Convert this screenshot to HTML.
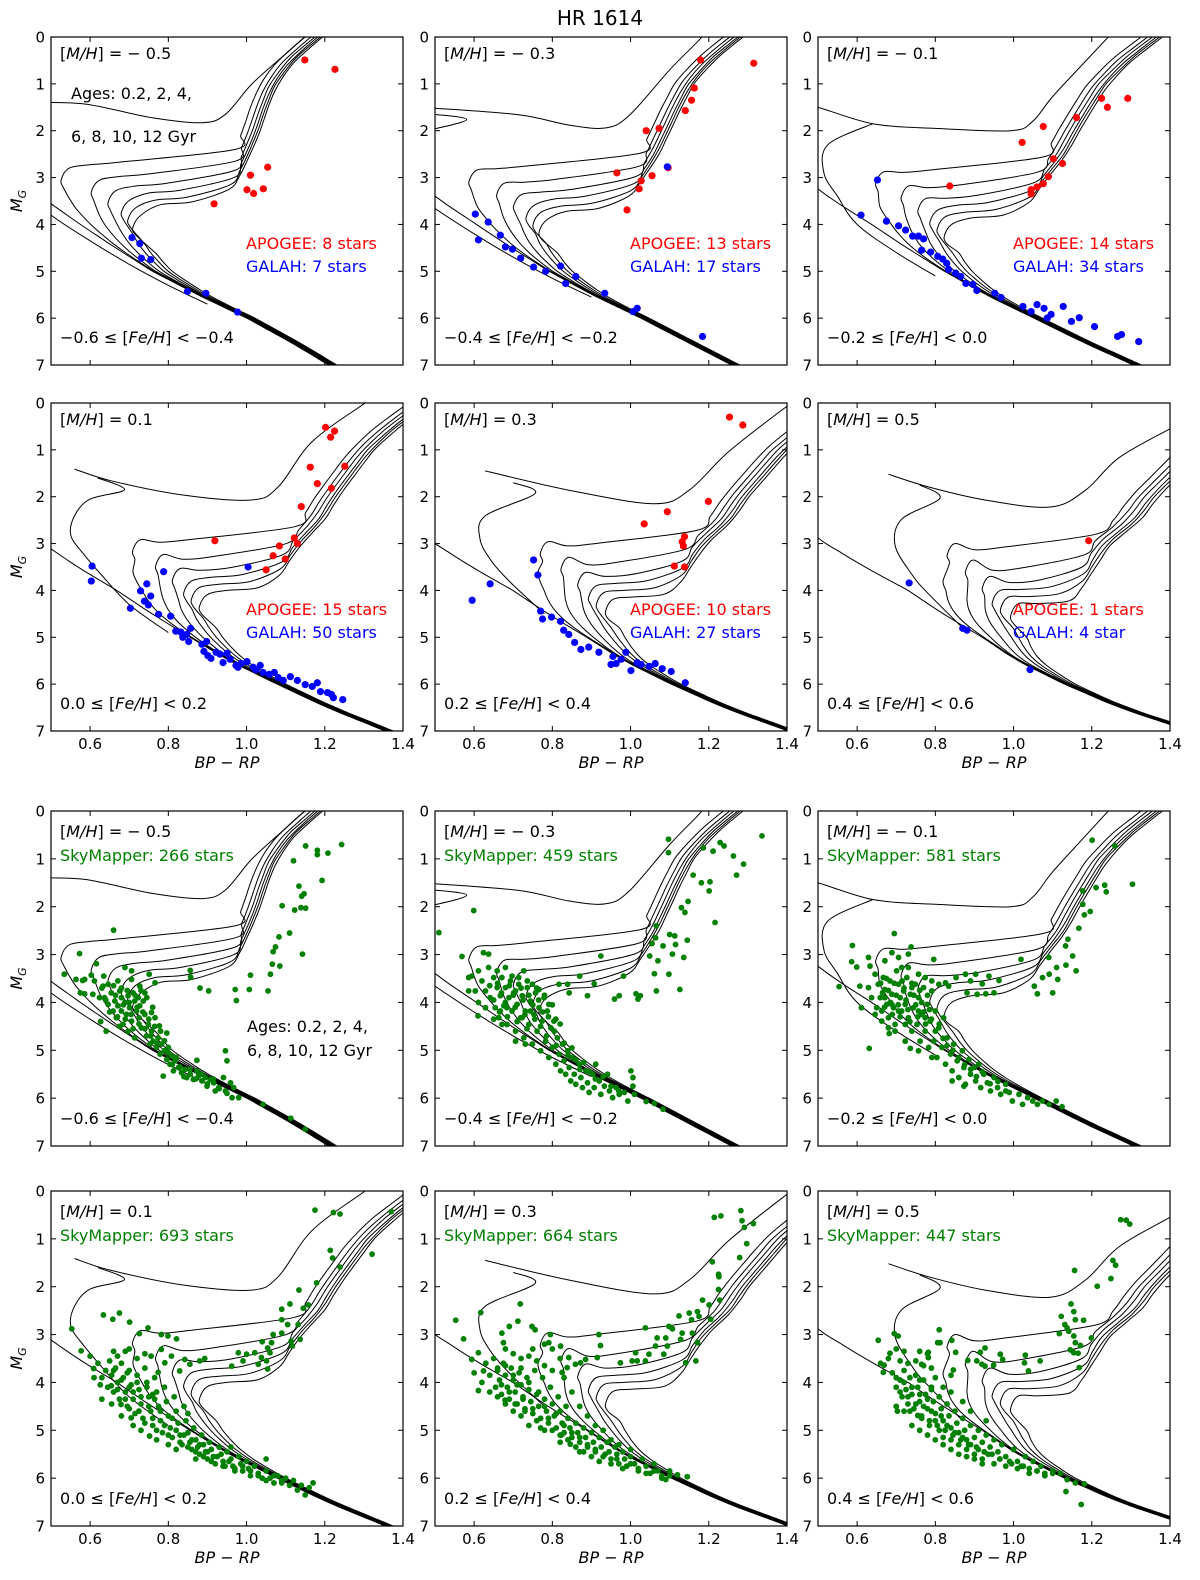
<!DOCTYPE html>
<html>
<head>
<meta charset="utf-8">
<style>
html,body{margin:0;padding:0;background:#fff;}
svg{display:block;}
text{font-family:"DejaVu Sans","Liberation Sans",sans-serif;}
</style>
</head>
<body>
<svg id="fig" xmlns="http://www.w3.org/2000/svg" width="1200" height="1580" viewBox="0 0 1200 1580">
<text x="600" y="25" text-anchor="middle" font-size="20">HR 1614</text>
</svg>
<script>
// ---------------- data ----------------
const mhLabels = ["\u22120.5","\u22120.3","\u22120.1","0.1","0.3","0.5"];
const mhValues = [-0.5,-0.3,-0.1,0.1,0.3,0.5];
const feLo = ["\u22120.6","\u22120.4","\u22120.2","0.0","0.2","0.4"];
const feHi = ["\u22120.4","\u22120.2","0.0","0.2","0.4","0.6"];
const apogeeCounts = ["8 stars","13 stars","14 stars","15 stars","10 stars","1 stars"];
const galahCounts = ["7 stars","17 stars","34 stars","50 stars","27 stars","4 star"];
const skyCounts = ["266 stars","459 stars","581 stars","693 stars","664 stars","447 stars"];
const xTicks = [0.6,0.8,1.0,1.2,1.4];
const xTickLabels = ["0.6","0.8","1.0","1.2","1.4"];
const yTicks = [0,1,2,3,4,5,6,7];

// isochrone templates (metal-poor A, metal-rich B)
const msMags = [2.0,2.5,3,3.5,4,4.5,5,5.5,6,6.5,7,7.5];
const msA = [0.24,0.33,0.42,0.49,0.575,0.665,0.76,0.875,1.0,1.11,1.21,1.32];
const msB = [0.36,0.44,0.52,0.62,0.73,0.82,0.92,1.01,1.13,1.27,1.45,1.6];
const rgbMags = [-0.5,0,0.5,1,1.5,2,2.5,3,3.5,4,4.5,5];
const rgbA = [1.27,1.194,1.125,1.08,1.055,1.035,1.01,0.98,0.93,0.89,0.85,0.8];
const rgbB = [1.75,1.66,1.57,1.49,1.43,1.37,1.325,1.25,1.21,1.17,1.13,1.09];
const cLA = [0.526,0.603,0.646,0.68,0.697,0.71], cLB = [0.83,0.877,0.92,0.946,0.967,0.993];
const mLA = [3.1,3.36,3.58,3.79,3.94,4.1], mLB = [3.3,3.65,4.0,4.3,4.44,4.58];
const mSA = [2.7,2.95,3.15,3.3,3.45,3.55], mSB = [3.1,3.54,3.8,3.95,4.1,4.25];
const offA = [-0.045,-0.03,-0.02,-0.012,-0.006,0], offB = [-0.07,-0.05,-0.035,-0.02,-0.01,0];

const young0 = [[0.45,1.40],[0.586,1.43],[0.757,1.72],[0.886,1.83],[0.946,1.65],[1.014,1.0],[1.1,0.36],[1.15,0],[1.2,-0.3]];
const young0b = [[0.45,3.4],[0.5,3.8],[0.6,4.35],[0.7,4.85],[0.8,5.3],[0.9,5.7]];
const young1 = [[0.45,1.5],[0.5,1.52],[0.714,1.66],[0.843,1.88],[0.937,1.94],[0.997,1.67],[1.1,0.7],[1.177,0.05],[1.21,-0.3]];
const young1b = [[0.45,1.62],[0.581,1.76],[0.45,2.05]];
const young1c = [[0.45,3.35],[0.5,3.66],[0.6,4.2],[0.7,4.7],[0.8,5.15],[0.9,5.55]];
const young2 = [[0.45,1.45],[0.5,1.5],[0.64,1.85],[0.8,1.95],[0.993,2.0],[1.049,1.8],[1.1,1.27],[1.186,0.5],[1.254,-0.1],[1.28,-0.3]];
const young2b = [[0.64,1.85],[0.525,2.3],[0.515,2.9],[0.55,3.4],[0.6,4.0],[0.7,4.6],[0.8,5.1]];
const young3 = [[0.56,1.41],[0.654,1.66],[0.842,1.97],[1.013,2.07],[1.081,1.79],[1.167,0.83],[1.303,0],[1.35,-0.3]];
const young3b = [[0.62,1.6],[0.688,1.85],[0.6,2.05],[0.56,2.41],[0.551,2.83],[0.585,3.24],[0.628,3.66],[0.7,4.3],[0.8,4.9]];
const young4 = [[0.628,1.45],[0.842,1.86],[1.06,2.15],[1.15,1.86],[1.252,1.03],[1.4,0.07],[1.45,-0.2]];
const young4b = [[0.7,1.7],[0.756,1.93],[0.628,2.41],[0.615,2.9],[0.645,3.38],[0.697,3.86],[0.78,4.5]];
const young5 = [[0.68,1.52],[0.782,1.79],[0.927,2.07],[1.094,2.22],[1.184,1.86],[1.269,1.17],[1.4,0.55],[1.5,0.1]];
const young5b = [[0.76,1.75],[0.812,2.03],[0.714,2.48],[0.697,3.03],[0.74,3.66],[0.782,4.07],[0.87,4.8]];
const youngMain = [young0,young1,young2,young3,young4,young5];
const youngBranches = [[young0b],[young1b,young1c],[young2b],[young3b],[young4b],[young5b]];

// APOGEE (red) and GALAH (blue) stars [BP-RP, M_G]
const apogee1 = [[1.149,0.49],[1.226,0.69],[1.01,2.95],[1.054,2.78],[1.001,3.26],[1.018,3.34],[1.043,3.24],[0.917,3.56]];
const galah1 = [[0.707,4.28],[0.727,4.41],[0.731,4.72],[0.755,4.75],[0.849,5.43],[0.896,5.47],[0.977,5.87]];
const apogee2 = [[1.179,0.49],[1.315,0.56],[1.163,1.09],[1.156,1.35],[1.14,1.57],[1.073,1.95],[1.04,2.0],[0.965,2.9],[1.027,3.07],[1.055,2.96],[1.022,3.24],[0.991,3.69],[1.096,2.79]];
const galah2 = [[0.603,3.78],[0.611,4.33],[0.636,3.95],[0.667,4.23],[0.68,4.48],[0.698,4.53],[0.719,4.72],[0.752,4.91],[0.783,5.0],[0.821,4.89],[0.834,5.26],[0.86,5.11],[0.934,5.47],[1.006,5.86],[1.017,5.79],[1.184,6.39],[1.094,2.77]];
const apogee3 = [[1.225,1.31],[1.24,1.5],[1.292,1.31],[1.161,1.72],[1.076,1.91],[1.022,2.25],[1.102,2.6],[1.125,2.7],[1.089,2.98],[1.076,3.13],[1.06,3.2],[1.045,3.26],[1.045,3.35],[0.837,3.18]];
const galah3 = [[0.61,3.8],[0.652,3.05],[0.675,3.93],[0.706,4.03],[0.724,4.12],[0.742,4.25],[0.757,4.25],[0.77,4.31],[0.765,4.55],[0.788,4.59],[0.806,4.68],[0.819,4.74],[0.829,4.83],[0.834,4.96],[0.852,5.04],[0.865,5.11],[0.878,5.26],[0.896,5.28],[0.906,5.41],[0.952,5.47],[0.968,5.56],[1.024,5.75],[1.045,5.86],[1.06,5.71],[1.078,5.79],[1.096,5.92],[1.127,5.75],[1.148,6.07],[1.168,5.99],[1.207,6.18],[1.266,6.39],[1.276,6.35],[1.32,6.5],[1.086,6.0]];
const apogee4 = [[1.202,0.52],[1.215,0.73],[1.225,0.6],[1.163,1.37],[1.251,1.35],[1.181,1.72],[1.217,1.82],[1.14,2.21],[1.122,2.88],[1.13,3.0],[1.084,3.05],[1.068,3.26],[1.099,3.33],[1.05,3.56],[0.919,2.94]];
const galah4 = [[0.605,3.48],[0.603,3.8],[0.703,4.38],[0.729,4.01],[0.745,3.86],[0.739,4.23],[0.755,4.12],[0.749,4.31],[0.775,4.51],[0.788,3.6],[0.806,4.55],[0.819,4.87],[0.837,5.0],[0.832,4.89],[0.847,4.94],[0.857,4.81],[0.886,5.15],[0.898,5.09],[0.891,5.3],[0.901,5.39],[0.922,5.32],[0.932,5.36],[0.94,5.54],[0.958,5.47],[0.973,5.6],[0.986,5.56],[1.001,5.52],[1.004,3.5],[1.017,5.64],[1.024,5.69],[1.035,5.6],[1.042,5.75],[1.058,5.79],[1.071,5.75],[1.081,5.86],[1.094,5.92],[1.112,5.84],[1.13,5.92],[1.15,6.01],[1.168,6.05],[1.181,5.97],[1.189,6.16],[1.207,6.18],[1.217,6.22],[1.222,6.29],[1.246,6.33],[0.909,5.45],[0.95,5.34],[0.978,5.64],[0.852,5.09]];
const apogee5 = [[1.253,0.3],[1.287,0.47],[1.199,2.1],[1.094,2.32],[1.035,2.58],[1.138,2.85],[1.132,2.96],[1.112,3.48],[1.138,3.5],[1.135,3.05]];
const galah5 = [[0.595,4.21],[0.641,3.86],[0.752,3.35],[0.763,3.67],[0.77,4.44],[0.775,4.61],[0.798,4.57],[0.821,4.66],[0.829,4.85],[0.842,4.94],[0.857,5.11],[0.873,5.26],[0.893,5.21],[0.919,5.32],[0.955,5.41],[0.963,5.56],[0.976,5.47],[0.988,5.32],[1.001,5.71],[1.017,5.54],[1.027,5.58],[1.048,5.62],[1.063,5.56],[1.081,5.67],[1.104,5.73],[1.14,5.97],[0.95,5.58]];
const apogee6 = [[1.192,2.94]];
const galah6 = [[0.733,3.84],[0.87,4.81],[0.881,4.85],[1.042,5.69]];
const apogeeSets = [apogee1,apogee2,apogee3,apogee4,apogee5,apogee6];
const galahSets = [galah1,galah2,galah3,galah4,galah5,galah6];

// SkyMapper (green) stars [BP-RP, M_G]
const sky1 = [[1.243,0.70],[1.208,0.88],[1.181,0.82],[1.181,0.91],[1.151,0.73],[1.12,1.04],[1.193,1.45],[1.134,1.57],[1.147,1.73],[1.141,1.78],[1.139,2.02],[1.151,2.03],[1.123,2.07],[1.091,1.98],[1.11,2.55],[1.083,2.63],[1.074,2.84],[1.068,2.94],[1.143,2.99],[1.085,3.24],[1.066,3.2],[1.061,3.41],[1.01,3.43],[1.007,3.73],[1.055,3.76],[0.971,3.73],[0.974,3.96],[0.95,5.22],[0.856,3.33],[0.857,3.47],[0.881,3.7],[0.903,3.76],[1.042,6.13],[1.113,6.42],[1.15,6.65],[0.873,5.21],[0.66,2.49],[0.573,2.98],[0.534,3.41],[0.751,3.41],[0.766,3.59],[0.777,4.49],[0.796,4.64],
[0.564,3.52],[0.581,3.54],[0.575,3.8],[0.586,3.82],[0.603,3.43],[0.611,3.55],[0.616,3.19],[0.635,3.45],[0.633,3.66],[0.607,3.83],[0.627,4.4],[0.641,4.6],[0.637,3.9],[0.646,4.04],[0.654,3.8],[0.659,4.18],[0.663,3.97],[0.667,4.32],[0.671,4.07],[0.676,3.76],[0.68,3.9],[0.68,4.18],[0.684,4.46],[0.689,3.27],[0.689,4.0],[0.693,4.25],[0.697,3.86],[0.697,4.6],[0.701,4.11],[0.706,3.52],[0.706,4.39],[0.71,3.8],[0.714,3.97],[0.714,4.74],[0.719,4.18],[0.723,3.9],[0.725,4.32],[0.727,4.07],[0.731,4.53],[0.736,3.97],[0.74,4.25],[0.744,4.7],[0.749,4.46],[0.753,4.87],[0.757,4.6],[0.761,4.81],[0.766,4.32],[0.77,4.94],[0.774,4.74],[0.779,5.08],[0.783,4.87],[0.79,5.01],[0.796,5.19],[0.8,4.94],[0.804,5.29],[0.809,5.12],[0.813,5.43],[0.817,5.22],[0.787,5.54],[0.826,5.36],[0.834,5.47],[0.843,5.4],[0.847,5.57],[0.856,5.5],[0.864,5.61],[0.873,5.43],[0.877,5.54],[0.886,5.64],[0.894,5.57],[0.899,5.75],[0.907,5.61],[0.916,5.68],[0.92,5.85],[0.929,5.78],[0.941,5.57],[0.946,5.85],[0.959,5.68],[0.963,5.99],[0.967,5.78],[0.98,5.99],[0.946,5.01],[0.586,3.52],[0.624,3.9],[0.646,3.62],[0.671,3.55],[0.706,3.34],[0.727,3.66],[0.74,3.8],[0.757,4.21]];
const sky2 = [[1.336,0.52],[1.289,1.11],[1.271,1.34],[1.263,0.94],[1.229,0.66],[1.239,0.73],[1.211,0.84],[1.186,0.77],[1.203,1.48],[1.181,1.5],[1.201,1.67],[1.16,1.34],[1.147,1.89],[1.13,2.02],[1.139,2.12],[1.216,2.33],[1.097,0.59],[1.097,0.87],[1.1,2.58],[1.113,2.61],[1.115,2.79],[1.145,2.7],[1.107,2.99],[1.136,3.06],[1.066,2.4],[1.064,2.65],[1.055,2.77],[1.083,2.82],[1.07,3.13],[1.061,3.4],[1.098,3.41],[1.066,3.76],[1.126,3.73],[1.049,3.03],[1.014,3.82],[1.025,3.86],[1.019,3.93],[0.982,3.45],[0.971,3.86],[0.959,3.93],[0.924,3.03],[0.907,3.61],[0.89,3.86],[0.87,3.45],[0.843,3.8],[0.839,3.62],[0.817,3.62],[0.727,3.34],[0.599,2.08],[0.51,2.54],[0.569,3.04],[0.624,2.96],[0.637,2.99],[0.594,3.45],[0.611,3.34],[0.586,3.76],[0.61,4.28],[0.611,4.0],
[0.62,3.55],[0.629,3.76],[0.637,3.27],[0.641,3.9],[0.65,3.48],[0.654,4.11],[0.659,3.69],[0.663,4.32],[0.667,3.86],[0.671,3.48],[0.676,4.07],[0.68,3.69],[0.684,4.46],[0.689,3.9],[0.693,3.55],[0.697,4.18],[0.701,3.8],[0.706,4.6],[0.71,4.04],[0.714,3.62],[0.719,4.32],[0.723,3.86],[0.727,4.74],[0.731,4.18],[0.736,3.69],[0.74,4.46],[0.744,3.97],[0.749,4.87],[0.753,4.25],[0.757,3.8],[0.761,4.6],[0.766,4.11],[0.77,5.01],[0.774,4.39],[0.779,3.9],[0.783,4.81],[0.787,4.18],[0.791,5.15],[0.796,4.53],[0.8,4.94],[0.804,4.39],[0.809,5.29],[0.813,4.74],[0.817,5.08],[0.821,5.43],[0.826,4.87],[0.83,5.22],[0.834,5.5],[0.839,5.01],[0.843,5.36],[0.847,5.64],[0.851,5.15],[0.856,5.5],[0.86,5.71],[0.869,5.29],[0.873,5.57],[0.877,5.78],[0.886,5.43],[0.89,5.68],[0.894,5.88],[0.903,5.5],[0.907,5.78],[0.911,5.29],[0.92,5.64],[0.924,5.92],[0.933,5.75],[0.941,5.5],[0.946,5.85],[0.954,5.99],[0.963,5.78],[0.971,5.92],[0.984,5.88],[0.993,6.06],[1.001,5.43],[1.006,5.57],[1.01,5.92],[1.04,6.07],[1.061,6.11],[1.083,6.23],[1.006,5.75],[0.586,3.48],[0.603,3.76],[0.659,3.34],[0.68,3.27],[0.697,3.45],[0.714,3.48],[0.736,3.55],[0.749,3.62],[0.766,3.73],[0.706,3.76],[0.723,4.32],[0.684,4.11],[0.667,4.18],[0.744,4.18],[0.791,4.04],[0.809,4.35],[0.629,4.11],[0.65,4.35],[0.671,4.46],[0.706,4.81],[0.731,4.87]];
const sky3 = [[1.201,0.61],[1.259,0.73],[1.304,1.53],[1.233,1.55],[1.237,1.69],[1.211,1.6],[1.177,1.67],[1.177,1.95],[1.196,2.1],[1.181,2.17],[1.167,2.45],[1.139,2.68],[1.133,2.82],[1.151,3.03],[1.134,3.22],[1.16,3.34],[1.09,3.06],[1.11,3.27],[1.113,3.52],[1.1,3.8],[1.091,3.41],[1.074,3.48],[1.053,3.66],[1.061,3.82],[1.019,3.1],[0.963,3.54],[0.937,3.45],[0.92,3.61],[0.903,3.41],[0.89,3.55],[0.877,3.41],[0.881,3.8],[0.907,3.83],[0.929,3.82],[0.95,3.8],[0.853,3.48],[0.834,3.66],[0.796,3.1],[0.738,2.84],[0.695,2.56],[0.588,2.81],[0.586,3.15],[0.629,3.06],[0.633,3.24],[0.599,3.26],[0.554,3.67],[0.607,3.66],[0.611,4.11],[0.629,3.69],[0.631,4.96],[0.682,4.65],[0.736,4.96],[0.689,2.96],
[0.646,3.41],[0.654,3.62],[0.659,3.9],[0.663,4.18],[0.667,3.48],[0.671,3.73],[0.676,4.04],[0.68,4.32],[0.684,3.55],[0.689,3.83],[0.693,4.11],[0.697,4.46],[0.701,3.34],[0.706,3.62],[0.71,3.9],[0.714,4.18],[0.719,3.76],[0.723,4.04],[0.727,3.48],[0.731,4.32],[0.736,3.83],[0.74,4.6],[0.744,4.11],[0.749,3.62],[0.753,4.46],[0.757,3.9],[0.761,4.81],[0.766,4.25],[0.77,3.69],[0.774,4.6],[0.779,4.04],[0.783,4.94],[0.787,4.39],[0.791,3.76],[0.796,4.81],[0.8,4.18],[0.804,5.15],[0.809,4.53],[0.817,4.94],[0.821,4.32],[0.826,5.29],[0.83,4.74],[0.839,5.08],[0.843,5.43],[0.847,4.87],[0.856,5.22],[0.86,5.57],[0.869,5.01],[0.873,5.36],[0.877,5.71],[0.886,5.19],[0.89,5.5],[0.899,5.36],[0.903,5.64],[0.911,5.29],[0.916,5.78],[0.924,5.5],[0.933,5.68],[0.941,5.85],[0.95,5.57],[0.959,5.78],[0.967,5.92],[0.98,5.71],[0.989,5.88],[0.997,6.06],[1.014,5.92],[1.023,6.13],[1.036,5.99],[1.049,6.06],[1.061,6.13],[1.074,6.06],[1.091,6.13],[1.109,6.06],[1.124,6.18],[0.843,5.64],[0.873,5.75],[0.791,5.15],[0.757,5.01],[0.723,4.81],[0.697,4.6],[0.68,4.53],[0.663,4.39],[0.646,4.25],[0.637,3.9],[0.65,4.11],[0.714,3.27],[0.731,3.27],[0.757,3.41],[0.774,3.48],[0.791,3.55],[0.809,3.62],[0.826,3.59],[0.706,4.18],[0.723,4.46],[0.689,4.04],[0.671,3.9],[0.74,3.69],[0.757,4.18],[0.774,4.32],[0.706,3.06],[0.731,2.99],[0.671,3.13]];
const sky4 = [[1.175,0.4],[1.222,0.45],[1.239,0.48],[1.37,0.43],[1.321,1.32],[1.22,1.4],[1.239,1.59],[1.214,1.24],[1.179,1.92],[1.134,2.07],[1.158,2.38],[1.145,2.45],[1.111,2.36],[1.09,2.47],[1.132,2.79],[1.105,2.79],[1.09,2.69],[1.137,3.1],[1.114,3.14],[1.117,3.24],[1.09,2.97],[1.068,3.0],[1.064,3.17],[1.04,3.15],[1.054,3.28],[1.038,3.48],[1.051,3.55],[1.06,3.38],[1.021,3.38],[1.0,3.41],[0.979,3.38],[0.991,3.55],[0.962,3.66],[1.03,3.62],[1.054,3.72],[0.893,3.5],[0.88,3.55],[0.829,3.76],[0.855,3.62],[0.842,3.52],[0.821,3.09],[0.782,3.0],[0.748,2.86],[0.726,2.98],[0.701,2.74],[0.675,2.55],[0.658,2.68],[0.634,2.59],[0.553,2.88],[0.577,3.34],[0.609,3.71],[0.626,4.05],[0.654,4.07],[0.679,4.46],[0.705,4.74],[0.752,5.12],[0.799,3.03],[0.782,3.31],[0.756,3.45],[0.791,3.59],[0.808,3.45],[0.774,3.79],
[0.62,3.6],[0.63,3.9],[0.64,3.75],[0.645,4.1],[0.65,3.55],[0.655,3.85],[0.66,4.2],[0.665,3.7],[0.67,4.0],[0.675,4.35],[0.68,3.6],[0.685,3.9],[0.69,4.2],[0.695,4.5],[0.7,3.75],[0.705,4.05],[0.71,4.35],[0.715,4.65],[0.72,3.85],[0.725,4.15],[0.73,4.45],[0.735,4.75],[0.74,3.7],[0.745,4.0],[0.75,4.3],[0.755,4.6],[0.76,4.9],[0.765,3.9],[0.77,4.2],[0.775,4.5],[0.78,4.8],[0.785,5.05],[0.79,4.1],[0.795,4.4],[0.8,4.7],[0.805,4.95],[0.81,5.15],[0.815,4.3],[0.82,4.6],[0.825,4.85],[0.83,5.1],[0.835,5.3],[0.84,4.5],[0.845,4.8],[0.85,5.05],[0.855,5.25],[0.86,5.4],[0.865,4.95],[0.87,5.2],[0.875,5.35],[0.88,5.5],[0.885,5.1],[0.89,5.3],[0.895,5.45],[0.9,5.6],[0.905,5.25],[0.91,5.4],[0.915,5.55],[0.92,5.7],[0.93,5.35],[0.935,5.5],[0.94,5.65],[0.945,5.75],[0.95,5.45],[0.96,5.6],[0.965,5.75],[0.97,5.85],[0.98,5.55],[0.985,5.7],[0.99,5.85],[1.0,5.65],[1.005,5.8],[1.01,5.95],[1.02,5.75],[1.03,5.9],[1.04,6.0],[1.05,5.85],[1.06,6.0],[1.07,6.1],[1.08,5.95],[1.09,6.1],[1.1,6.0],[1.11,6.15],[1.12,6.05],[1.13,6.25],[1.14,6.15],[1.16,6.2],[1.17,6.1],[1.15,6.35],[1.05,5.6],[0.96,5.35],[0.85,4.65],[0.76,4.25],[0.7,4.1],[0.67,3.45],[0.69,3.35],[0.72,3.5],[0.74,3.4],[0.7,3.3],[0.66,3.35],[0.6,3.45],[0.61,3.9],[0.63,4.35],[0.655,4.45],[0.68,4.7],[0.71,4.9],[0.73,5.0],[0.77,5.2],[0.8,5.3],[0.82,5.4],[0.87,5.6]];
const sky5 = [[1.214,0.55],[1.231,0.52],[1.282,0.41],[1.285,0.62],[1.291,0.76],[1.314,0.68],[1.297,1.1],[1.279,1.39],[1.209,1.48],[1.225,1.74],[1.226,1.79],[1.225,2.06],[1.228,2.28],[1.184,2.28],[1.201,2.38],[1.171,2.52],[1.175,2.62],[1.15,2.55],[1.124,2.61],[1.156,2.69],[1.205,2.68],[1.098,2.83],[1.107,2.88],[1.132,2.97],[1.158,2.97],[1.128,3.1],[1.171,3.17],[1.09,3.07],[1.094,3.24],[1.085,3.41],[1.064,3.24],[1.068,3.07],[1.038,2.86],[1.047,3.41],[1.038,3.55],[1.017,3.55],[1.004,3.55],[0.974,3.59],[1.013,3.38],[1.141,3.59],[1.167,3.55],[0.919,3.0],[0.923,3.23],[0.915,3.48],[0.885,3.52],[0.872,3.59],[0.859,3.62],[0.842,3.48],[0.838,3.69],[0.825,3.79],[0.821,3.24],[0.795,3.0],[0.791,3.17],[0.756,2.9],[0.748,2.83],[0.718,2.36],[0.712,2.72],[0.69,2.83],[0.671,2.97],[0.675,3.17],[0.617,2.54],[0.553,2.7],[0.573,3.09],[0.594,3.52],[0.611,3.38],[0.624,3.76],[0.611,4.17],[0.679,4.37],[0.823,5.1],[0.846,5.29],[1.12,5.93],[1.145,5.97],[1.09,6.03],
[0.63,3.6],[0.64,3.85],[0.65,3.5],[0.655,4.1],[0.66,3.7],[0.665,3.95],[0.67,4.25],[0.675,3.6],[0.68,3.85],[0.685,4.1],[0.69,4.35],[0.695,3.7],[0.7,3.95],[0.705,4.2],[0.71,4.45],[0.715,3.8],[0.72,4.05],[0.725,4.3],[0.73,4.55],[0.735,3.9],[0.74,4.15],[0.745,4.4],[0.75,4.65],[0.755,3.75],[0.76,4.25],[0.765,4.5],[0.77,4.75],[0.775,3.9],[0.78,4.35],[0.785,4.6],[0.79,4.85],[0.795,4.1],[0.8,4.45],[0.805,4.7],[0.81,4.95],[0.815,4.3],[0.82,4.6],[0.825,4.85],[0.83,5.05],[0.835,4.5],[0.84,4.75],[0.845,4.95],[0.85,5.15],[0.86,4.85],[0.865,5.05],[0.87,5.25],[0.88,4.95],[0.885,5.15],[0.89,5.35],[0.9,5.05],[0.905,5.25],[0.91,5.45],[0.92,5.15],[0.925,5.35],[0.93,5.55],[0.94,5.25],[0.945,5.45],[0.95,5.6],[0.96,5.35],[0.965,5.5],[0.97,5.7],[0.98,5.45],[0.985,5.6],[0.99,5.75],[1.0,5.55],[1.01,5.7],[1.02,5.85],[1.03,5.6],[1.04,5.75],[1.05,5.9],[1.06,5.7],[1.07,5.85],[1.08,5.95],[1.1,5.85],[0.74,4.9],[0.72,4.7],[0.7,4.6],[0.68,4.45],[0.66,4.3],[0.64,4.2],[0.62,4.0],[0.6,3.8],[0.76,3.55],[0.78,3.65],[0.8,3.75],[0.74,3.45],[0.72,3.5],[0.7,3.4],[0.68,3.3],[0.75,3.3],[0.78,3.2],[0.8,3.3],[0.82,3.5],[0.83,3.9],[0.85,4.2],[0.87,4.5],[0.89,4.7],[0.91,4.9],[0.93,5.0],[0.95,5.2],[0.97,5.3],[1.0,5.4],[0.78,5.0],[0.82,5.25],[0.87,5.45]];
const sky6 = [[1.274,0.6],[1.288,0.61],[1.297,0.69],[1.254,1.45],[1.261,1.55],[1.249,1.83],[1.156,1.66],[1.214,1.99],[1.147,2.36],[1.154,2.52],[1.122,2.62],[1.158,2.69],[1.131,2.79],[1.137,2.86],[1.179,2.7],[1.117,2.98],[1.141,2.93],[1.154,3.03],[1.158,3.17],[1.171,3.23],[1.199,3.07],[1.145,3.32],[1.154,3.38],[1.165,3.39],[1.168,3.69],[1.068,3.55],[1.03,3.43],[1.028,3.59],[1.038,3.76],[0.966,3.41],[0.972,3.52],[0.927,3.28],[0.915,3.37],[0.906,3.55],[0.919,3.62],[0.927,3.66],[0.949,3.64],[0.883,3.54],[0.852,3.37],[0.842,3.12],[0.846,3.74],[0.81,2.9],[0.806,3.17],[0.812,3.17],[0.782,3.37],[0.782,3.48],[0.765,3.62],[0.695,2.98],[0.705,3.03],[0.654,3.12],[0.684,3.39],[0.669,3.64],[0.667,3.79],[0.703,4.6],[0.755,4.69],[1.134,6.28],[1.173,6.55],[1.181,6.12],[1.158,6.1],[1.137,6.03],
[0.69,3.8],[0.7,4.1],[0.71,3.95],[0.715,4.3],[0.72,3.75],[0.725,4.15],[0.73,4.45],[0.735,3.9],[0.74,4.25],[0.745,4.55],[0.75,3.85],[0.755,4.1],[0.76,4.4],[0.765,4.7],[0.77,3.95],[0.775,4.25],[0.78,4.55],[0.785,4.8],[0.79,4.1],[0.795,4.4],[0.8,4.65],[0.805,4.9],[0.81,4.3],[0.815,4.55],[0.82,4.8],[0.825,5.0],[0.83,4.45],[0.835,4.7],[0.84,4.95],[0.845,5.1],[0.85,4.6],[0.855,4.85],[0.86,5.05],[0.865,5.2],[0.87,4.75],[0.875,5.0],[0.88,5.2],[0.885,5.3],[0.89,4.9],[0.9,5.15],[0.905,5.35],[0.91,5.0],[0.92,5.25],[0.925,5.45],[0.93,5.1],[0.94,5.35],[0.945,5.5],[0.95,5.2],[0.96,5.45],[0.965,5.6],[0.97,5.3],[0.98,5.55],[0.99,5.65],[1.0,5.4],[1.01,5.65],[1.02,5.75],[1.03,5.55],[1.04,5.8],[1.05,5.65],[1.06,5.85],[1.07,5.75],[1.08,5.9],[1.1,5.85],[1.12,5.9],[0.74,4.9],[0.72,4.6],[0.7,4.5],[0.76,5.0],[0.78,5.1],[0.8,5.2],[0.82,5.3],[0.84,5.4],[0.86,5.5],[0.88,5.55],[0.9,5.6],[0.92,5.7],[0.75,3.55],[0.77,3.65],[0.79,3.7],[0.8,3.9],[0.82,4.1],[0.73,3.6],[0.71,3.55],[0.68,3.5],[0.66,3.6],[0.7,3.3],[0.72,3.35],[0.76,3.35],[0.78,3.4],[0.84,4.2],[0.87,4.4],[0.89,4.6],[0.93,4.8],[0.84,3.85]];
// extra stars in the densest cores
const core1 = [[0.63,3.7],[0.64,3.95],[0.65,4.2],[0.66,3.65],[0.665,3.85],[0.67,4.3],[0.675,4.5],[0.68,3.7],[0.685,4.05],[0.69,4.35],[0.695,3.75],[0.7,4.0],[0.705,4.25],[0.71,4.55],[0.715,3.85],[0.72,4.1],[0.725,4.45],[0.73,3.75],[0.735,4.2],[0.74,4.55],[0.745,3.9],[0.75,4.35],[0.755,4.7],[0.76,4.1],[0.765,4.5],[0.77,4.85],[0.78,4.6],[0.79,4.8],[0.8,5.05],[0.81,5.3],[0.82,5.15],[0.83,5.35],[0.84,5.55],[0.855,5.4],[0.87,5.6],[0.885,5.5],[0.9,5.7],[0.915,5.6],[0.93,5.8],[0.95,5.9]];
const core2 = [[0.64,3.65],[0.65,3.95],[0.66,3.6],[0.665,4.2],[0.67,3.8],[0.68,4.0],[0.685,4.3],[0.69,3.65],[0.7,3.85],[0.705,4.1],[0.71,4.4],[0.72,3.7],[0.725,3.95],[0.73,4.25],[0.735,4.55],[0.74,3.85],[0.75,4.05],[0.755,4.35],[0.76,3.7],[0.765,3.95],[0.77,4.5],[0.775,4.2],[0.78,3.85],[0.785,4.7],[0.79,4.3],[0.8,4.05],[0.805,4.6],[0.81,4.9],[0.82,4.45],[0.83,4.85],[0.84,5.1],[0.85,4.95],[0.86,5.2],[0.87,5.4],[0.88,5.25],[0.895,5.45],[0.91,5.6],[0.93,5.55],[0.95,5.75],[0.97,5.85]];
const core3 = [[0.66,3.6],[0.665,3.8],[0.67,4.1],[0.675,3.5],[0.68,3.75],[0.685,4.0],[0.69,4.25],[0.695,3.6],[0.7,3.85],[0.705,4.05],[0.71,4.3],[0.715,3.55],[0.72,3.7],[0.725,3.95],[0.73,4.15],[0.735,4.4],[0.74,3.6],[0.745,3.85],[0.75,4.05],[0.755,4.3],[0.76,3.75],[0.765,4.0],[0.77,4.2],[0.775,4.45],[0.78,3.85],[0.785,4.15],[0.79,4.35],[0.8,4.6],[0.81,4.45],[0.82,4.75],[0.83,4.9],[0.845,5.0],[0.86,5.15],[0.875,5.3],[0.89,5.4],[0.905,5.55],[0.92,5.45],[0.94,5.7],[0.96,5.65],[0.98,5.85]];
const core4 = [[0.66,3.75],[0.67,4.15],[0.68,3.95],[0.69,4.35],[0.695,3.8],[0.7,4.55],[0.71,4.2],[0.72,4.0],[0.725,4.6],[0.73,4.3],[0.74,4.85],[0.745,4.1],[0.75,4.5],[0.76,4.75],[0.765,4.35],[0.77,5.0],[0.78,4.6],[0.79,4.9],[0.8,5.1],[0.81,4.75],[0.82,5.0],[0.83,5.25],[0.84,5.1],[0.85,5.35],[0.86,5.2],[0.87,5.45],[0.88,5.3],[0.89,5.55],[0.9,5.45],[0.91,5.65],[0.925,5.55],[0.94,5.75],[0.955,5.65],[0.97,5.8],[0.99,5.75],[1.01,5.85],[1.03,5.95],[1.05,6.05],[1.07,5.95],[1.09,6.05]];
const core5 = [[0.66,3.75],[0.67,4.05],[0.68,3.65],[0.69,4.2],[0.7,3.85],[0.705,4.45],[0.71,4.05],[0.72,3.7],[0.725,4.35],[0.73,4.6],[0.74,4.0],[0.75,4.55],[0.76,4.8],[0.765,4.2],[0.77,4.95],[0.78,4.5],[0.79,4.75],[0.8,5.0],[0.81,4.65],[0.82,5.1],[0.83,4.9],[0.84,5.2],[0.85,5.05],[0.86,5.35],[0.87,5.15],[0.88,5.45],[0.89,5.3],[0.9,5.55],[0.91,5.4],[0.92,5.65],[0.935,5.5],[0.95,5.7],[0.965,5.6],[0.98,5.8],[1.0,5.7],[1.02,5.8],[1.04,5.9],[1.06,5.85],[1.08,6.0],[1.1,5.95]];
const core6 = [[0.7,3.9],[0.71,4.2],[0.72,4.0],[0.73,4.3],[0.735,4.6],[0.74,4.1],[0.75,4.45],[0.76,4.25],[0.765,4.75],[0.77,4.5],[0.78,4.35],[0.785,4.9],[0.79,4.6],[0.8,4.8],[0.81,5.0],[0.815,4.7],[0.82,5.15],[0.83,4.9],[0.84,5.2],[0.85,5.05],[0.86,5.3],[0.87,5.15],[0.88,5.4],[0.89,5.3],[0.9,5.5],[0.91,5.4],[0.92,5.6],[0.935,5.5],[0.95,5.7],[0.965,5.6],[0.98,5.75],[0.995,5.7],[1.01,5.8],[1.025,5.75],[1.04,5.9],[1.06,5.85],[1.08,5.95],[1.1,5.9],[0.76,3.95],[0.79,4.15]];
const skySets = [sky1,sky2,sky3,sky4,sky5,sky6];
const coreSets = [core1,core2,core3,core4,core5,core6];

// ---------------- layout ----------------
const NS = "http://www.w3.org/2000/svg";
const svg = document.getElementById("fig");
const colX = [51,435,818];
const rowY = [37,403,811,1191];
const rowH = [328,328,335,335];
const PW = 352;
const CMIN = 0.5, CMAX = 1.4, MMIN = 0, MMAX = 7;

function el(tag, attrs, parent){
  const e = document.createElementNS(NS, tag);
  for (const k in attrs) e.setAttribute(k, attrs[k]);
  (parent||svg).appendChild(e);
  return e;
}
function interp(xs, ys, x){
  const n = xs.length;
  if (x <= xs[0]) return ys[0] + (ys[1]-ys[0])*(x-xs[0])/(xs[1]-xs[0]);
  if (x >= xs[n-1]) return ys[n-2] + (ys[n-1]-ys[n-2])*(x-xs[n-2])/(xs[n-1]-xs[n-2]);
  for (let i=0;i<n-1;i++){
    if (x>=xs[i] && x<=xs[i+1]) return ys[i] + (ys[i+1]-ys[i])*(x-xs[i])/(xs[i+1]-xs[i]);
  }
}
function lerp(a,b,t){ return a + (b-a)*t; }

function isochrones(t){
  const ms = msA.map((v,i)=>lerp(v,msB[i],t));
  const rg = rgbA.map((v,i)=>lerp(v,rgbB[i],t));
  const list = [];
  for (let k=0;k<6;k++){
    const cL = lerp(cLA[k],cLB[k],t), mL = lerp(mLA[k],mLB[k],t);
    const mS = lerp(mSA[k],mSB[k],t), off = lerp(offA[k],offB[k],t);
    const diff = cL - interp(msMags, ms, mL);
    const mMerge = mL + 1.8;
    const pts = [];
    for (let M=7.6; M>mL+0.3; M-=0.2){
      let s = (mMerge - M)/(mMerge - mL); s = Math.max(0, Math.min(1, s));
      pts.push([interp(msMags, ms, M) + diff*s*s + (k+1)*0.0035, M]);
    }
    pts.push([cL+0.006, mL+0.12]);
    pts.push([cL, mL-0.05]);
    pts.push([cL+0.02, mL-0.3]);
    pts.push([cL+0.07, mS+0.03]);
    pts.push([cL+0.15, mS-0.03]);
    for (let M=mS-0.3; M>=-0.6; M-=0.3) pts.push([interp(rgbMags, rg, M)+off, M]);
    list.push(pts);
  }
  const msLine = [];
  for (let M=7.6; M>=1.8; M-=0.2) msLine.push([interp(msMags, ms, M), M]);
  return {old:list, ms:msLine};
}

function smoothPath(P){
  if (P.length < 3) return "M" + P.map(p=>p[0].toFixed(1)+","+p[1].toFixed(1)).join(" L");
  let d = "M" + P[0][0].toFixed(1) + "," + P[0][1].toFixed(1);
  for (let i=0;i<P.length-1;i++){
    const p0 = P[i-1]||P[i], p1 = P[i], p2 = P[i+1], p3 = P[i+2]||P[i+1];
    const c1x = p1[0] + (p2[0]-p0[0])/6, c1y = p1[1] + (p2[1]-p0[1])/6;
    const c2x = p2[0] - (p3[0]-p1[0])/6, c2y = p2[1] - (p3[1]-p1[1])/6;
    d += " C" + c1x.toFixed(1)+","+c1y.toFixed(1)+" "+c2x.toFixed(1)+","+c2y.toFixed(1)+" "+p2[0].toFixed(1)+","+p2[1].toFixed(1);
  }
  return d;
}

function panel(row, col){
  const mi = col + 3*(row%2);
  const x0 = colX[col], y0 = rowY[row], h = rowH[row];
  const sx = c => x0 + (c-CMIN)/(CMAX-CMIN)*PW;
  const sy = m => y0 + (m-MMIN)/(MMAX-MMIN)*h;
  const pid = "p"+row+"_"+col;

  const g = el("g", {});
  
  

  const defs = el("defs", {}, g);
  const cp = el("clipPath", {id:"clip"+pid}, defs);
  el("rect", {x:x0, y:y0, width:PW, height:h}, cp);

  const plot = el("g", {"clip-path":"url(#clip"+pid+")"}, g);
  
  

  const t = (mhValues[mi]+0.5);
  const iso = isochrones(t);
  const toPx = arr => arr.map(p => [sx(p[0]), sy(p[1])]);
  const lineStyle = {fill:"none", stroke:"#000", "stroke-width":"1", "stroke-linejoin":"round"};

  const ms = el("path", Object.assign({d:smoothPath(toPx(iso.ms))}, lineStyle), plot);
  
  
  const yl = el("path", Object.assign({d:smoothPath(toPx(youngMain[mi]))}, lineStyle), plot);
  
  
  youngBranches[mi].forEach(b => {
    const yb = el("path", Object.assign({d:smoothPath(toPx(b))}, lineStyle), plot);
    
    
  });
  const ages = ["2","4","6","8","10","12"];
  iso.old.forEach((pts,k) => {
    const pl = el("path", Object.assign({d:smoothPath(toPx(pts))}, lineStyle), plot);
    
    
  });

  if (row < 2){
    apogeeSets[mi].forEach(p => {
      const c = el("circle", {cx:sx(p[0]), cy:sy(p[1]), r:3.6, fill:"#ff0000"}, plot);
      
      
    });
    galahSets[mi].forEach(p => {
      const c = el("circle", {cx:sx(p[0]), cy:sy(p[1]), r:3.6, fill:"#0000ff"}, plot);
      
      
    });
  } else {
    skySets[mi].concat(coreSets[mi]).forEach(p => {
      const c = el("circle", {cx:sx(p[0]), cy:sy(p[1]), r:2.9, fill:"#008000"}, plot);
      
      
    });
  }

  const fr = el("rect", {x:x0, y:y0, width:PW, height:h, fill:"none", stroke:"#000", "stroke-width":"1.2"}, g);
  
  

  yTicks.forEach(v => {
    const y = sy(v);
    const t1 = el("line", {x1:x0, y1:y, x2:x0+5, y2:y, stroke:"#000", "stroke-width":"1"}, g);
    
    
    const t2 = el("line", {x1:x0+PW-5, y1:y, x2:x0+PW, y2:y, stroke:"#000", "stroke-width":"1"}, g);
    
    
    const lb = el("text", {x:x0-6, y:y+5.5, "text-anchor":"end", "font-size":"15"}, g);
    lb.textContent = String(v);
    
    
  });
  xTicks.forEach((v,i) => {
    const x = sx(v);
    const t1 = el("line", {x1:x, y1:y0, x2:x, y2:y0+5, stroke:"#000", "stroke-width":"1"}, g);
    
    
    const t2 = el("line", {x1:x, y1:y0+h-5, x2:x, y2:y0+h, stroke:"#000", "stroke-width":"1"}, g);
    
    
    if (row % 2 === 1){
      const lb = el("text", {x:x, y:y0+h+18, "text-anchor":"middle", "font-size":"15"}, g);
      lb.textContent = xTickLabels[i];
      
      
    }
  });
  if (row % 2 === 1){
    const xt = el("text", {x:x0+PW/2, y:y0+h+37, "text-anchor":"middle", "font-size":"16", "font-style":"italic"}, g);
    xt.textContent = "BP \u2212 RP";
    
    
  }
  if (col === 0){
    const cy = y0 + h/2;
    const yt = el("text", {x:22, y:cy, "text-anchor":"middle", "font-size":"16", transform:"rotate(-90 22 "+cy+")"}, g);
    
    
    const m = el("tspan", {"font-style":"italic"}, yt); m.textContent = "M";
    const sub = el("tspan", {"font-style":"italic", "font-size":"11", dy:"4"}, yt); sub.textContent = "G";
  }

  const green = row >= 2;
  const mhY = green ? y0+26 : y0+22;
  const mh = el("text", {x:x0+9, y:mhY, "font-size":"16"}, g);
  
  
  const a1 = el("tspan", {}, mh); a1.textContent = "[";
  const a2 = el("tspan", {"font-style":"italic"}, mh); a2.textContent = "M/H";
  const a3 = el("tspan", {}, mh); a3.textContent = "] = " + (mhLabels[mi].startsWith("\u2212") ? "\u2212 " + mhLabels[mi].slice(1) : mhLabels[mi]);

  const fe = el("text", {x:x0+9, y:y0+h-22, "font-size":"16"}, g);
  
  
  const f1 = el("tspan", {}, fe); f1.textContent = feLo[mi] + " \u2264 [";
  const f2 = el("tspan", {"font-style":"italic"}, fe); f2.textContent = "Fe/H";
  const f3 = el("tspan", {}, fe); f3.textContent = "] < " + feHi[mi];

  if (!green){
    const ap = el("text", {x:x0+195, y:y0+212, "font-size":"16", fill:"#ff0000"}, g);
    ap.textContent = "APOGEE: " + apogeeCounts[mi];
    
    
    const ga = el("text", {x:x0+195, y:y0+235, "font-size":"16", fill:"#0000ff"}, g);
    ga.textContent = "GALAH: " + galahCounts[mi];
    
    
    if (row===0 && col===0){
      const ag1 = el("text", {x:x0+20, y:y0+62, "font-size":"16"}, g);
      ag1.textContent = "Ages: 0.2, 2, 4,";
      
      
      const ag2 = el("text", {x:x0+20, y:y0+105, "font-size":"16"}, g);
      ag2.textContent = "6, 8, 10, 12 Gyr";
      
      
    }
  } else {
    const sk = el("text", {x:x0+9, y:y0+50, "font-size":"16", fill:"#008000"}, g);
    sk.textContent = "SkyMapper: " + skyCounts[mi];
    
    
    if (row===2 && col===0){
      const ag1 = el("text", {x:x0+196, y:y0+221, "font-size":"16"}, g);
      ag1.textContent = "Ages: 0.2, 2, 4,";
      
      
      const ag2 = el("text", {x:x0+196, y:y0+245, "font-size":"16"}, g);
      ag2.textContent = "6, 8, 10, 12 Gyr";
      
      
    }
  }
}

for (let r=0;r<4;r++) for (let c=0;c<3;c++) panel(r,c);
</script>
</body>
</html>
